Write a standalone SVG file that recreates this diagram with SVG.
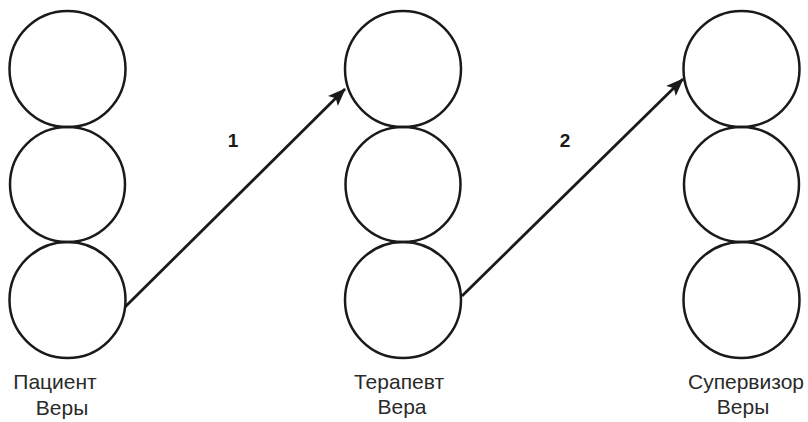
<svg xmlns="http://www.w3.org/2000/svg" width="808" height="422" viewBox="0 0 808 422">
<style>
.c{fill:none;stroke:#1a1a1a;stroke-width:2.5}
.t{font-family:"Liberation Sans",Arial,sans-serif;font-size:21px;fill:#2a2a2a;text-anchor:middle}
.n{font-family:"Liberation Sans",Arial,sans-serif;font-size:19px;font-weight:bold;fill:#1a1a1a;text-anchor:middle}
.a{fill:none;stroke:#1a1a1a;stroke-width:2.8}
</style>
<defs>
<marker id="ah" viewBox="0 0 18 14" refX="17" refY="7" markerWidth="18" markerHeight="14" markerUnits="userSpaceOnUse" orient="auto">
<path d="M0,0 L18,7 L0,14 L4,7 Z" fill="#1a1a1a"/>
</marker>
</defs>
<rect width="808" height="422" fill="#fff"/>
<g id="patient">
<circle class="c" cx="67.5" cy="69" r="58"/>
<circle class="c" cx="67.5" cy="184.5" r="57.5"/>
<circle class="c" cx="67.5" cy="300" r="58"/>
<text class="t" x="55" y="389">Пациент</text>
<text class="t" x="62" y="415">Веры</text>
</g>
<g id="therapist">
<circle class="c" cx="403" cy="69" r="58"/>
<circle class="c" cx="403" cy="184.5" r="57.5"/>
<circle class="c" cx="403" cy="300" r="58"/>
<text class="t" x="399" y="389">Терапевт</text>
<text class="t" x="402" y="414">Вера</text>
</g>
<g id="supervisor">
<circle class="c" cx="741.5" cy="69" r="58"/>
<circle class="c" cx="741.5" cy="184.5" r="57.5"/>
<circle class="c" cx="741.5" cy="300" r="58"/>
<text class="t" x="746" y="389">Супервизор</text>
<text class="t" x="743" y="414">Веры</text>
</g>
<g id="connectors">
<line class="a" x1="125" y1="307" x2="345" y2="89" marker-end="url(#ah)"/>
<line class="a" x1="462" y1="296" x2="683" y2="79" marker-end="url(#ah)"/>
<text class="n" x="233" y="147">1</text>
<text class="n" x="565" y="147">2</text>
</g>
</svg>
